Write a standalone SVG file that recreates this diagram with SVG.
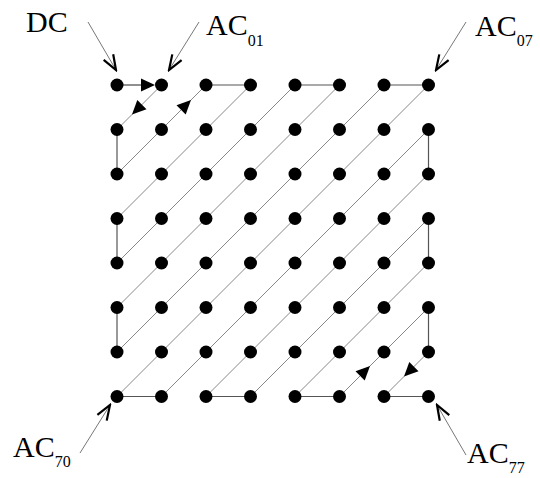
<svg xmlns="http://www.w3.org/2000/svg" xmlns:xlink="http://www.w3.org/1999/xlink" width="540" height="478" viewBox="0 0 540 478">
<style>
.dot{fill:#000}
.ax{stroke:#555;stroke-width:1.2;fill:none}
.dg{stroke:#888;stroke-width:1;fill:none}
.lead{stroke:#777;stroke-width:1;fill:none;marker-end:url(#open)}
.lbl{font-family:"Liberation Serif","Times New Roman",serif;font-size:30px;fill:#000}
.sub{font-size:16px}
</style>
<defs>
<marker id="open" markerUnits="userSpaceOnUse" viewBox="-17 -8 19 16" markerWidth="19" markerHeight="16" refX="0" refY="0" orient="auto">
<path d="M-15,-5.5 L0,0 L-15,5.5" fill="none" stroke="#000" stroke-width="2.2"/>
</marker>
<path id="tri" d="M0,0 L-14,-6.5 L-14,6.5 Z" fill="#000"/>
</defs>
<g id="connectors">
<line x1="117" y1="85" x2="150" y2="85" stroke="#222" stroke-width="1.2"/>
<line class="ax" x1="206" y1="85" x2="250.5" y2="85"/>
<line class="ax" x1="295" y1="85" x2="339.5" y2="85"/>
<line class="ax" x1="384" y1="85" x2="428.5" y2="85"/>
<line class="ax" x1="117" y1="396.5" x2="161.5" y2="396.5"/>
<line class="ax" x1="206" y1="396.5" x2="250.5" y2="396.5"/>
<line class="ax" x1="295" y1="396.5" x2="339.5" y2="396.5"/>
<line class="ax" x1="384" y1="396.5" x2="428.5" y2="396.5"/>
<line class="ax" x1="117" y1="129.5" x2="117" y2="174"/>
<line class="ax" x1="117" y1="218.5" x2="117" y2="263"/>
<line class="ax" x1="117" y1="307.5" x2="117" y2="352"/>
<line class="ax" x1="428.5" y1="129.5" x2="428.5" y2="174"/>
<line class="ax" x1="428.5" y1="218.5" x2="428.5" y2="263"/>
<line class="ax" x1="428.5" y1="307.5" x2="428.5" y2="352"/>
<line class="dg" x1="161.5" y1="85" x2="117" y2="129.5"/>
<line class="dg" x1="117" y1="174" x2="206" y2="85"/>
<line class="dg" x1="250.5" y1="85" x2="117" y2="218.5"/>
<line class="dg" x1="117" y1="263" x2="295" y2="85"/>
<line class="dg" x1="339.5" y1="85" x2="117" y2="307.5"/>
<line class="dg" x1="117" y1="352" x2="384" y2="85"/>
<line class="dg" x1="428.5" y1="85" x2="117" y2="396.5"/>
<line class="dg" x1="161.5" y1="396.5" x2="428.5" y2="129.5"/>
<line class="dg" x1="428.5" y1="174" x2="206" y2="396.5"/>
<line class="dg" x1="250.5" y1="396.5" x2="428.5" y2="218.5"/>
<line class="dg" x1="428.5" y1="263" x2="295" y2="396.5"/>
<line class="dg" x1="339.5" y1="396.5" x2="428.5" y2="307.5"/>
<line class="dg" x1="428.5" y1="352" x2="384" y2="396.5"/>
<use xlink:href="#tri" transform="translate(155,85)"/>
<use xlink:href="#tri" transform="translate(132,114.5) rotate(135)"/>
<use xlink:href="#tri" transform="translate(191,100) rotate(-45)"/>
<use xlink:href="#tri" transform="translate(370,366) rotate(-45)"/>
<use xlink:href="#tri" transform="translate(404,376.5) rotate(135)"/>
<line class="lead" x1="88" y1="22" x2="116" y2="70"/>
<line class="lead" x1="199" y1="22" x2="169" y2="70"/>
<line class="lead" x1="466" y1="22" x2="436" y2="70"/>
<line class="lead" x1="80" y1="453" x2="110" y2="405"/>
<line class="lead" x1="466" y1="455" x2="437" y2="405"/>
</g>
<g id="labels">
<g id="label-dc"><text class="lbl" x="26" y="32">DC</text></g>
<g id="label-ac01"><text class="lbl" x="206" y="35">AC<tspan class="sub" dy="11">01</tspan></text></g>
<g id="label-ac07"><text class="lbl" x="475" y="36">AC<tspan class="sub" dy="10">07</tspan></text></g>
<g id="label-ac70"><text class="lbl" x="13" y="457">AC<tspan class="sub" dy="10">70</tspan></text></g>
<g id="label-ac77"><text class="lbl" x="467" y="463">AC<tspan class="sub" dy="10">77</tspan></text></g>
</g>
<g id="dots">
<g id="n00"><circle class="dot" cx="117" cy="85" r="6.5"/></g>
<g id="n01"><circle class="dot" cx="161.5" cy="85" r="6.5"/></g>
<g id="n02"><circle class="dot" cx="206" cy="85" r="6.5"/></g>
<g id="n03"><circle class="dot" cx="250.5" cy="85" r="6.5"/></g>
<g id="n04"><circle class="dot" cx="295" cy="85" r="6.5"/></g>
<g id="n05"><circle class="dot" cx="339.5" cy="85" r="6.5"/></g>
<g id="n06"><circle class="dot" cx="384" cy="85" r="6.5"/></g>
<g id="n07"><circle class="dot" cx="428.5" cy="85" r="6.5"/></g>
<g id="n10"><circle class="dot" cx="117" cy="129.5" r="6.5"/></g>
<g id="n11"><circle class="dot" cx="161.5" cy="129.5" r="6.5"/></g>
<g id="n12"><circle class="dot" cx="206" cy="129.5" r="6.5"/></g>
<g id="n13"><circle class="dot" cx="250.5" cy="129.5" r="6.5"/></g>
<g id="n14"><circle class="dot" cx="295" cy="129.5" r="6.5"/></g>
<g id="n15"><circle class="dot" cx="339.5" cy="129.5" r="6.5"/></g>
<g id="n16"><circle class="dot" cx="384" cy="129.5" r="6.5"/></g>
<g id="n17"><circle class="dot" cx="428.5" cy="129.5" r="6.5"/></g>
<g id="n20"><circle class="dot" cx="117" cy="174" r="6.5"/></g>
<g id="n21"><circle class="dot" cx="161.5" cy="174" r="6.5"/></g>
<g id="n22"><circle class="dot" cx="206" cy="174" r="6.5"/></g>
<g id="n23"><circle class="dot" cx="250.5" cy="174" r="6.5"/></g>
<g id="n24"><circle class="dot" cx="295" cy="174" r="6.5"/></g>
<g id="n25"><circle class="dot" cx="339.5" cy="174" r="6.5"/></g>
<g id="n26"><circle class="dot" cx="384" cy="174" r="6.5"/></g>
<g id="n27"><circle class="dot" cx="428.5" cy="174" r="6.5"/></g>
<g id="n30"><circle class="dot" cx="117" cy="218.5" r="6.5"/></g>
<g id="n31"><circle class="dot" cx="161.5" cy="218.5" r="6.5"/></g>
<g id="n32"><circle class="dot" cx="206" cy="218.5" r="6.5"/></g>
<g id="n33"><circle class="dot" cx="250.5" cy="218.5" r="6.5"/></g>
<g id="n34"><circle class="dot" cx="295" cy="218.5" r="6.5"/></g>
<g id="n35"><circle class="dot" cx="339.5" cy="218.5" r="6.5"/></g>
<g id="n36"><circle class="dot" cx="384" cy="218.5" r="6.5"/></g>
<g id="n37"><circle class="dot" cx="428.5" cy="218.5" r="6.5"/></g>
<g id="n40"><circle class="dot" cx="117" cy="263" r="6.5"/></g>
<g id="n41"><circle class="dot" cx="161.5" cy="263" r="6.5"/></g>
<g id="n42"><circle class="dot" cx="206" cy="263" r="6.5"/></g>
<g id="n43"><circle class="dot" cx="250.5" cy="263" r="6.5"/></g>
<g id="n44"><circle class="dot" cx="295" cy="263" r="6.5"/></g>
<g id="n45"><circle class="dot" cx="339.5" cy="263" r="6.5"/></g>
<g id="n46"><circle class="dot" cx="384" cy="263" r="6.5"/></g>
<g id="n47"><circle class="dot" cx="428.5" cy="263" r="6.5"/></g>
<g id="n50"><circle class="dot" cx="117" cy="307.5" r="6.5"/></g>
<g id="n51"><circle class="dot" cx="161.5" cy="307.5" r="6.5"/></g>
<g id="n52"><circle class="dot" cx="206" cy="307.5" r="6.5"/></g>
<g id="n53"><circle class="dot" cx="250.5" cy="307.5" r="6.5"/></g>
<g id="n54"><circle class="dot" cx="295" cy="307.5" r="6.5"/></g>
<g id="n55"><circle class="dot" cx="339.5" cy="307.5" r="6.5"/></g>
<g id="n56"><circle class="dot" cx="384" cy="307.5" r="6.5"/></g>
<g id="n57"><circle class="dot" cx="428.5" cy="307.5" r="6.5"/></g>
<g id="n60"><circle class="dot" cx="117" cy="352" r="6.5"/></g>
<g id="n61"><circle class="dot" cx="161.5" cy="352" r="6.5"/></g>
<g id="n62"><circle class="dot" cx="206" cy="352" r="6.5"/></g>
<g id="n63"><circle class="dot" cx="250.5" cy="352" r="6.5"/></g>
<g id="n64"><circle class="dot" cx="295" cy="352" r="6.5"/></g>
<g id="n65"><circle class="dot" cx="339.5" cy="352" r="6.5"/></g>
<g id="n66"><circle class="dot" cx="384" cy="352" r="6.5"/></g>
<g id="n67"><circle class="dot" cx="428.5" cy="352" r="6.5"/></g>
<g id="n70"><circle class="dot" cx="117" cy="396.5" r="6.5"/></g>
<g id="n71"><circle class="dot" cx="161.5" cy="396.5" r="6.5"/></g>
<g id="n72"><circle class="dot" cx="206" cy="396.5" r="6.5"/></g>
<g id="n73"><circle class="dot" cx="250.5" cy="396.5" r="6.5"/></g>
<g id="n74"><circle class="dot" cx="295" cy="396.5" r="6.5"/></g>
<g id="n75"><circle class="dot" cx="339.5" cy="396.5" r="6.5"/></g>
<g id="n76"><circle class="dot" cx="384" cy="396.5" r="6.5"/></g>
<g id="n77"><circle class="dot" cx="428.5" cy="396.5" r="6.5"/></g>
</g>
</svg>
